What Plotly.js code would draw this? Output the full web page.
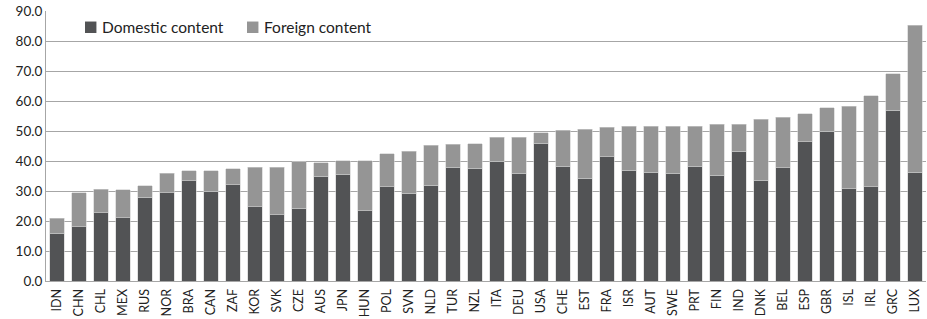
<!DOCTYPE html>
<html>
<head>
<meta charset="utf-8">
<script src="https://cdn.plot.ly/plotly-3.0.1.min.js"></script>
<style>html,body{margin:0;padding:0;background:#fff;}#chart{width:927px;height:319px;}</style>
</head>
<body>
<div id="chart"></div>
<script>
var countries = ["IDN","CHN","CHL","MEX","RUS","NOR","BRA","CAN","ZAF","KOR","SVK","CZE","AUS","JPN","HUN","POL","SVN","NLD","TUR","NZL","ITA","DEU","USA","CHE","EST","FRA","ISR","AUT","SWE","PRT","FIN","IND","DNK","BEL","ESP","GBR","ISL","IRL","GRC","LUX"];
var domestic = [15.9,18.1,22.8,21.1,28.0,29.4,33.4,30.0,32.1,24.7,22.1,24.3,35.0,35.6,23.4,31.5,29.3,32.0,38.0,37.6,40.0,36.0,46.0,38.3,34.2,41.5,37.0,36.2,35.9,38.3,35.2,43.2,33.6,37.7,46.4,50.0,30.7,31.5,57.0,36.2];
var foreign = [5.1,11.3,7.8,9.4,3.7,6.6,3.4,6.8,5.3,13.2,15.8,15.4,4.5,4.5,16.7,11.0,13.9,13.3,7.6,8.2,8.0,12.0,3.4,11.9,16.4,9.7,14.6,15.4,15.7,13.3,17.1,9.1,20.3,16.9,9.3,7.8,27.5,30.3,12.1,49.1];
var seriesNames = ['Domestic content','Foreign content'];
var seriesColors = ['#525355','#959595'];
var yTicks = [0,10,20,30,40,50,60,70,80,90];

var font = "Lato, 'Open Sans', sans-serif";
var data = [
  {type:'bar', name:seriesNames[0], x:countries, y:domestic,
   marker:{color:seriesColors[0], line:{color:'#cfcfcf', width:0.6}}},
  {type:'bar', name:seriesNames[1], x:countries, y:foreign,
   marker:{color:seriesColors[1], line:{color:'#cfcfcf', width:0.6}}}
];

// legend drawn as shapes + text annotations (paper coords)
var legendX = [0.0443, 0.2284];
var shapes = [], annotations = [];
for (var i = 0; i < 2; i++) {
  shapes.push({type:'rect', xref:'paper', yref:'paper', x0:legendX[i], x1:legendX[i]+0.0130,
               y0:0.9185, y1:0.961, fillcolor:seriesColors[i], line:{width:0}});
  annotations.push({xref:'paper', yref:'paper', x:legendX[i]+0.0165, y:0.941, xanchor:'left', yanchor:'middle',
                    text:seriesNames[i], showarrow:false, font:{family:font, size:15.5, color:'#222'}});
}

var layout = {
  width:927, height:319,
  margin:{l:46, r:1, t:11, b:38, pad:0},
  barmode:'stack', bargap:0.36,
  paper_bgcolor:'#fff', plot_bgcolor:'#fff',
  font:{family:font, color:'#222', size:13},
  showlegend:false,
  shapes:shapes, annotations:annotations,
  xaxis:{type:'category', tickangle:-90, showgrid:false, showline:true, linecolor:'#a6a6a6', linewidth:1,
         ticks:'', ticklabelstandoff:2, tickfont:{family:font, size:12.5, color:'#222'}, automargin:false},
  yaxis:{range:[0,90], tickvals:yTicks, tickformat:'.1f', showgrid:true, gridcolor:'#a6a6a6', gridwidth:1,
         showline:true, linecolor:'#a6a6a6', zeroline:false, ticks:'', ticklen:0,
         tickfont:{family:font, size:13.5, color:'#222'}, automargin:false}
};
Plotly.newPlot('chart', data, layout, {displayModeBar:false, staticPlot:true});
</script>
</body>
</html>
